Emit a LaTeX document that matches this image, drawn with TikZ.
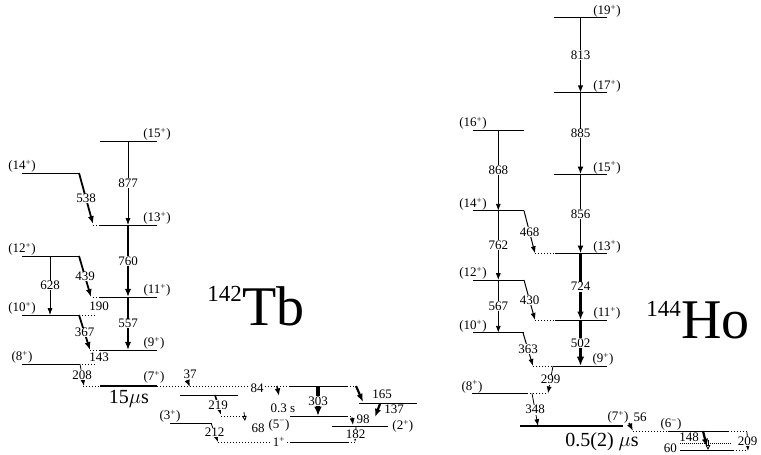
\documentclass[tikz,border=0pt]{standalone}
\usepackage{fontspec}
\setmainfont{Liberation Serif}
\usetikzlibrary{arrows,arrows.meta}
\newcommand{\lblfont}{\fontsize{13}{14}\selectfont}
\tikzset{
  lev/.style={line width=0.9pt},
  levx/.style={line width=0.9pt, dash pattern=on 1pt off 2pt},
  iso/.style={line width=2.6pt},
  gam/.style={-{Latex[length=6pt 1, width=4.2pt 1]}, line width=#1},
  gam/.default=0.8pt,
  egam/.style={font=\lblfont, fill=white, inner sep=0.6pt},
  jpi/.style={font=\lblfont, inner sep=0pt},
  opn/.style={-{Triangle[open, length=5pt, width=4.5pt]}, line width=0.8pt}
}

\begin{document}
\begin{tikzpicture}[x=1pt, y=-1pt]
\useasboundingbox (0,0) rectangle (761,455);

% 142Tb levels
\draw[lev] (100,141) -- (157,141) node[jpi,above] (t15) {(15\textsuperscript{+})};
\draw[lev] (22,173) node[jpi,above] (t14) {(14\textsuperscript{+})} -- (79,173);
\draw[levx] (93,225) -- (100,225);
\draw[lev] (100,225) -- (157,225) node[jpi,above] (t13) {(13\textsuperscript{+})};
\draw[lev] (22,256) node[jpi,above] (t12) {(12\textsuperscript{+})} -- (79,256);
\draw[levx] (93,297) -- (100,297);
\draw[lev] (100,297) -- (157,297) node[jpi,above] (t11) {(11\textsuperscript{+})};
\draw[lev] (22,315) node[jpi,above] (t10) {(10\textsuperscript{+})} -- (79,315);
\draw[levx] (79,315) -- (96,315);
\draw[levx] (90,350) -- (100,350);
\draw[lev] (100,350) -- (157,350) node[jpi,above,xshift=-3pt] (t9) {(9\textsuperscript{+})};
\draw[lev] (22,364) node[jpi,above] (t8) {(8\textsuperscript{+})} -- (79,364);
\draw[levx] (79,364) -- (96,364);
\draw[levx] (83,386) -- (100,386);
\draw[iso] (100,386) -- (157,386) node[jpi,above=1.5pt,xshift=-3pt] (t7) {(7\textsuperscript{+})};
\node[font=\fontsize{20}{20}\selectfont] (tiso) at (129,399) {15$\mu$s};

% 142Tb transitions
\draw[gam] (128,141) -- node[egam] (g877) {877} (128,225);
\draw[gam=1.8pt] (79,173) -- node[egam] (g538) {538} (93,224);
\draw[gam=2.2pt] (128,225) -- node[egam] (g760) {760} (128,297);
\draw[gam] (50,256) -- node[egam] (g628) {628} (50,315);
\draw[gam=1.8pt] (79,256) -- node[egam] (g439) {439} (91,297);
\draw[gam=2.2pt] (128,297) -- node[egam] (g557) {557} (128,350);
\draw[gam=1.8pt] (79,315) -- node[egam] (g367) {367} (90,350);
\node[egam] (g190) at (99,306) {190};
\node[egam] (g143) at (99,357) {143};
\draw[gam] (80,364) -- node[egam] (g208) {208} (84,386);

% low-lying part of 142Tb
\draw[levx] (157,386) -- (290,386);
\node[jpi] (g37) at (190,374) {37};
\draw[gam=1.2pt] (187,380) -- (190,387);
\node[egam] (g84) at (257,388) {84};
\draw[lev] (290,386) -- (347,386);
\draw[levx] (347,386) -- (358,386);
\draw[lev] (180,395) -- (238,395);
\draw[gam=1.6pt] (277,386) -- (279,396);
\draw[gam=1.6pt] (215,395) -- node[egam] (g219) {219} (221,415);
\draw[levx] (221,416.5) -- (245,416.5);
\draw[opn] (244,412) -- (245,421);
\draw[lev, line width=1.8pt] (290,416.5) -- (347,416.5);
\draw[levx] (347,416.5) -- (353,416.5);
\node[jpi] (thalf) at (283,408) {0.3 s};
\node[jpi] (t5) at (279,425) {(5\textsuperscript{−})};
\node[jpi] (g68) at (258,428) {68};
\draw[gam=3.5pt] (318,386) -- node[egam] (g303) {303} (318,416);
\draw[lev] (170,423) node[jpi,above] (t3) {(3\textsuperscript{+})} -- (212,423);
\draw[gam] (211,423) -- node[egam] (g212) {212} (218,442);
\draw[levx] (218,442.5) -- (290,442.5);
\node[egam] (t1) at (279,442) {1\textsuperscript{+}};
\draw[lev] (290,442.5) -- (348,442.5);
\draw[levx] (348,442.5) -- (355,442.5);
\draw[gam=2.2pt] (356,386) -- (363,402);
\node[jpi] (g165) at (382,394) {165};
\draw[lev] (359,403) -- (417,403);
\draw[gam=2.2pt] (380,404) -- (375,417);
\node[jpi] (g137) at (394,409) {137};
\draw[lev] (332,426) -- (388,426) node[jpi,right=4pt] (t2) {(2\textsuperscript{+})};
\draw[gam] (352,417) -- (353,425);
\node[jpi] (g98) at (363,419) {98};
\draw[gam] (356,427) -- node[egam] (g182) {182} (355,442);

\node[anchor=base west, inner sep=0, font=\fontsize{56}{56}\selectfont] (tb) at (242,325) {Tb};
\node[anchor=north east, inner sep=0, font=\fontsize{23}{23}\selectfont] (tbA) at (tb.north west) {142};

% 144Ho levels
\draw[lev] (554,17.7) -- (607,17.7) node[jpi,above] (h19) {(19\textsuperscript{+})};
\draw[lev] (554,92.7) -- (607,92.7) node[jpi,above] (h17) {(17\textsuperscript{+})};
\draw[lev] (554,174.3) -- (607,174.3) node[jpi,above] (h15) {(15\textsuperscript{+})};
\draw[lev] (473,130) node[jpi,above] (h16) {(16\textsuperscript{+})} -- (524,130);
\draw[lev] (473,210.7) node[jpi,above] (h14) {(14\textsuperscript{+})} -- (524,210.7);
\draw[levx] (535,253.3) -- (555,253.3);
\draw[lev] (555,253.3) -- (607,253.3) node[jpi,above] (h13) {(13\textsuperscript{+})};
\draw[lev] (473,280) node[jpi,above] (h12) {(12\textsuperscript{+})} -- (524,280);
\draw[levx] (535,320) -- (555,320);
\draw[lev] (555,320) -- (607,320) node[jpi,above] (h11) {(11\textsuperscript{+})};
\draw[lev] (473,332.7) node[jpi,above] (h10) {(10\textsuperscript{+})} -- (524,332.7);
\draw[levx] (533,366) -- (553,366);
\draw[lev] (553,366) -- (607,366) node[jpi,above,xshift=-4pt] (h9) {(9\textsuperscript{+})};
\draw[lev] (472,393.3) node[jpi,above] (h8) {(8\textsuperscript{+})} -- (527,393.3);
\draw[levx] (527,393.3) -- (548,393.3);
\draw[iso] (520,426) -- (623,426) node[jpi,above=1.5pt,xshift=-5pt] (h7) {(7\textsuperscript{+})};
\node[font=\fontsize{20}{20}\selectfont] (hiso) at (602,442) {0.5(2) $\mu$s};

% 144Ho transitions
\draw[gam=1.3pt] (580.5,17.7) -- node[egam] (g813) {813} (580.5,92.7);
\draw[gam=1.6pt] (580.5,92.7) -- node[egam] (g885) {885} (580.5,174.3);
\draw[gam=1.8pt] (580.5,174.3) -- node[egam] (g856) {856} (580.5,253.3);
\draw[gam=2.5pt] (580.5,253.3) -- node[egam] (g724) {724} (580.5,320);
\draw[gam=3.5pt] (580.5,320) -- node[egam] (g502) {502} (580.5,366);
\draw[gam] (498.3,130) -- node[egam] (g868) {868} (498.3,210.7);
\draw[gam] (498.3,210.7) -- node[egam] (g762) {762} (498.3,280);
\draw[gam] (498.3,280) -- node[egam] (g567) {567} (498.3,332.7);
\draw[gam=1pt] (524,210.7) -- node[egam] (g468) {468} (535,253.3);
\draw[gam=1pt] (524,280) -- node[egam] (g430) {430} (535,320);
\draw[gam=1pt] (523,332.7) -- node[egam] (g363) {363} (533,366);
\draw[gam] (553,366) -- node[egam] (g299) {299} (548,393.3);
\draw[gam] (532,393.3) -- node[egam] (g348) {348} (538,426);

% low-lying part of 144Ho
\node[jpi] (g56) at (640,417) {56};
\draw[gam=1.6pt] (629,423) -- (633,431);
\draw[levx] (633,431) -- (668,431);
\draw[lev] (668,431) node[jpi,above,xshift=3pt] (h6) {(6\textsuperscript{−})} -- (728,431);
\draw[levx] (728,431) -- (747,431);
\draw[gam] (747,432) -- node[egam] (g209) {209} (748,451);
\draw[lev, dash pattern=on 1pt off 1pt] (680,443.3) -- (732,443.3);
\draw[lev] (680,450) -- (733,450);
\draw[levx] (733,450) -- (747,450);
\node[jpi, anchor=base east] (g60) at (677,452.5) {60};
\node[jpi] (g148) at (689,437) {148};
\draw[gam=2.2pt] (703,431) -- (707,447);
\draw[opn] (708,440) -- (708,450);

\node[anchor=base west, inner sep=0, font=\fontsize{56}{56}\selectfont] (ho) at (681,338) {Ho};
\node[anchor=north east, inner sep=0, font=\fontsize{23}{23}\selectfont] (hoA) at (ho.north west) {144};
\end{tikzpicture}
\end{document}
